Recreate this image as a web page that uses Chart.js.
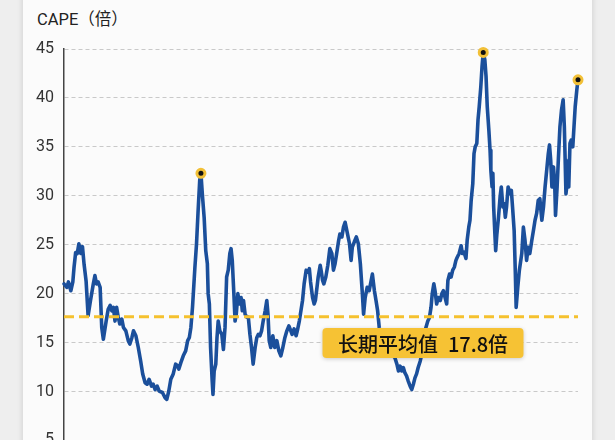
<!DOCTYPE html>
<html lang="zh">
<head>
<meta charset="utf-8">
<title>CAPE</title>
<script src="https://cdn.jsdelivr.net/npm/chart.js@4.4.1/dist/chart.umd.min.js"></script>
<style>
  html, body { margin: 0; padding: 0; }
  body {
    width: 615px; height: 440px; overflow: hidden; position: relative;
    background: #eeeeee;
    font-family: Roboto, "Noto Sans CJK SC", sans-serif;
  }
  .card {
    position: absolute; left: 23px; top: -10px; width: 569px; height: 470px;
    background: #fbfbfb; box-shadow: 0 0 6px rgba(0, 0, 0, 0.15);
  }
  .title {
    position: absolute; left: 37px; top: 6px;
    font-size: 16.5px; color: #222; white-space: nowrap;
  }
  #chart { position: absolute; left: 0; top: 0; }
</style>
</head>
<body>
<div class="card"></div>
<div class="title">CAPE（倍）</div>
<canvas id="chart" width="615" height="509"></canvas>
<script>
// Time axis (years) and CAPE ratio
const years = [
  1896.0, 1896.7, 1897.1, 1897.7, 1898.2, 1898.5, 1898.9, 1899.3, 1899.7, 1900.2,
  1900.6, 1901.0, 1901.5, 1902.0, 1902.6, 1903.3, 1903.7, 1904.1, 1904.5, 1905.0,
  1905.4, 1905.8, 1906.5, 1907.0, 1907.5, 1907.9, 1908.3, 1908.7, 1909.1, 1909.5,
  1909.9, 1910.4, 1910.8, 1911.4, 1912.0, 1912.4, 1912.9, 1913.3, 1913.9, 1914.5,
  1915.1, 1915.6, 1916.2, 1916.7, 1917.2, 1917.8, 1918.2, 1918.7, 1919.2, 1919.7,
  1920.5, 1921.2, 1921.6, 1922.1, 1922.6, 1923.2, 1923.8, 1924.3, 1924.6, 1925.1,
  1925.7, 1926.3, 1926.8, 1927.2, 1927.6, 1928.0, 1928.3, 1928.6, 1929.0, 1929.4,
  1929.8, 1930.1, 1930.5, 1930.9, 1931.3, 1931.7, 1931.9, 1932.2, 1932.5, 1932.9,
  1933.1, 1933.4, 1933.8, 1934.1, 1934.4, 1934.8, 1935.3, 1935.7, 1936.1, 1936.5,
  1936.9, 1937.3, 1937.6, 1937.9, 1938.3, 1938.6, 1938.9, 1939.3, 1939.7, 1940.1,
  1940.4, 1940.7, 1941.1, 1941.5, 1941.9, 1942.3, 1942.7, 1943.1, 1943.6, 1944.0,
  1944.4, 1944.8, 1945.2, 1945.6, 1946.1, 1946.5, 1946.8, 1947.1, 1947.5, 1948.0,
  1948.5, 1949.0, 1949.5, 1950.0, 1950.5, 1951.0, 1951.5, 1952.0, 1952.3, 1952.8,
  1953.3, 1953.8, 1954.1, 1954.6, 1955.0, 1955.4, 1955.8, 1956.3, 1956.8, 1957.1,
  1957.4, 1957.9, 1958.3, 1958.6, 1958.9, 1959.3, 1959.8, 1960.1, 1960.4, 1960.7,
  1961.2, 1961.7, 1962.2, 1962.7, 1963.1, 1963.5, 1963.9, 1964.4, 1964.7, 1965.2,
  1965.6, 1966.0, 1966.6, 1967.1, 1967.5, 1967.8, 1968.3, 1968.8, 1969.3, 1969.8,
  1970.3, 1970.6, 1971.0, 1971.5, 1972.0, 1972.5, 1972.8, 1973.3, 1973.7, 1974.1,
  1974.5, 1974.9, 1976.2, 1977.4, 1978.4, 1978.9, 1979.3, 1979.7, 1980.1, 1980.5,
  1980.9, 1981.3, 1981.7, 1982.2, 1982.6, 1983.0, 1983.4, 1983.8, 1984.2, 1984.7,
  1985.1, 1985.5, 1985.9, 1986.6, 1987.0, 1987.4, 1987.7, 1988.1, 1988.4, 1988.8,
  1989.2, 1989.7, 1990.1, 1990.5, 1990.9, 1991.3, 1991.6, 1992.0, 1992.4, 1992.8,
  1993.2, 1993.6, 1993.9, 1994.4, 1994.9, 1995.2, 1995.6, 1996.1, 1996.4, 1996.8,
  1997.1, 1997.4, 1997.8, 1998.1, 1998.4, 1998.8, 1999.1, 1999.4, 1999.8, 2000.1,
  2000.4, 2000.8, 2001.1, 2001.4, 2001.8, 2002.1, 2002.3, 2002.6, 2002.8, 2003.0,
  2003.3, 2003.5, 2003.8, 2004.2, 2004.6, 2004.9, 2005.3, 2005.6, 2005.9, 2006.2,
  2006.6, 2007.1, 2007.4, 2007.7, 2008.1, 2008.4, 2008.6, 2009.0, 2009.4, 2010.0,
  2010.4, 2010.8, 2011.2, 2011.6, 2012.0, 2012.5, 2012.9, 2013.3, 2013.7, 2014.1,
  2014.5, 2015.0, 2015.4, 2015.8, 2016.2, 2016.6, 2016.9, 2017.2, 2017.5, 2017.9,
  2018.2, 2018.4, 2018.8, 2019.1, 2019.5, 2019.9, 2020.3, 2020.6, 2020.8, 2021.0,
  2021.3, 2021.7, 2022.0, 2022.3, 2022.7, 2023.0, 2023.3, 2023.7, 2024.0
];
const cape = [
  21.0, 20.65, 21.2, 20.3, 21.2, 22.7, 24.2, 24.1, 25.1, 24.1,
  24.8, 23.0, 21.3, 17.75, 19.3, 21.0, 21.85, 21.0, 21.2, 20.65,
  16.55, 15.35, 17.2, 18.4, 18.8, 18.25, 18.6, 17.2, 18.6, 17.6,
  16.9, 17.4, 16.55, 16.2, 15.2, 14.85, 15.5, 16.2, 15.7, 14.5,
  13.1, 11.8, 10.9, 10.75, 11.25, 10.55, 10.75, 10.2, 10.55, 10.05,
  9.9, 9.35, 9.2, 10.05, 11.25, 11.8, 12.8, 12.6, 12.3, 12.95,
  13.65, 14.15, 15.2, 15.5, 16.55, 18.6, 20.65, 22.7, 25.1, 28.5,
  31.6, 32.3, 29.9, 27.8, 24.4, 23.05, 20.0, 18.95, 14.5, 11.1,
  9.7, 12.1, 12.8, 15.5, 17.2, 16.2, 15.85, 14.3, 16.55, 21.7,
  22.4, 24.1, 24.6, 23.4, 20.0, 17.2, 17.9, 20.0, 18.95, 19.6,
  18.25, 19.3, 17.9, 17.6, 17.6, 15.85, 14.5, 12.8, 14.5, 15.5,
  15.85, 15.7, 16.2, 17.2, 18.25, 19.3, 17.9, 15.2, 14.5, 15.7,
  14.5, 15.2, 14.15, 13.65, 14.5, 15.5, 16.2, 16.7, 16.4, 15.85,
  16.4, 15.7, 16.2, 17.2, 18.25, 19.3, 21.0, 22.4, 22.2, 22.55,
  21.2, 19.6, 18.95, 19.3, 20.3, 21.7, 22.9, 22.2, 21.35, 21.0,
  21.7, 22.9, 24.6, 24.1, 22.4, 23.05, 24.1, 25.45, 26.1, 25.8,
  26.8, 27.3, 26.1, 25.1, 23.4, 24.75, 25.3, 25.8, 25.1, 23.05,
  20.0, 17.9, 19.6, 20.65, 20.3, 21.35, 22.0, 20.3, 19.3, 18.25,
  16.55, 15.5, 14.3, 13.9, 13.45, 12.8, 12.1, 12.6, 12.1, 12.45,
  11.9, 11.6, 11.1, 10.55, 10.2, 10.75, 11.4, 11.8, 12.45, 13.1,
  13.8, 15.2, 16.2, 17.2, 17.55, 18.6, 20.0, 21.0, 20.3, 18.95,
  19.6, 19.3, 20.0, 20.3, 19.6, 18.95, 21.35, 22.0, 21.7, 22.4,
  22.7, 23.4, 23.7, 24.1, 24.9, 24.1, 24.25, 23.6, 25.45, 26.8,
  27.5, 29.55, 31.25, 34.3, 35.0, 35.35, 37.75, 39.1, 41.15, 43.2,
  44.65, 43.9, 42.2, 39.1, 36.7, 34.65, 32.6, 30.9, 32.3, 28.85,
  26.1, 24.4, 26.1, 27.8, 29.9, 30.9, 28.85, 29.2, 27.8, 28.85,
  30.9, 30.2, 30.55, 28.85, 26.45, 22.0, 18.6, 20.65, 22.4, 24.1,
  26.8, 25.45, 23.4, 24.75, 24.1, 25.45, 26.45, 27.5, 28.2, 29.55,
  29.7, 27.5, 28.85, 30.9, 32.6, 34.3, 35.2, 33.65, 30.9, 32.95,
  31.25, 28.0, 30.9, 33.65, 37.05, 38.8, 39.8, 37.05, 33.65, 30.2,
  31.25, 30.9, 35.35, 35.7, 35.0, 37.05, 39.1, 40.8, 41.85
];
// highlighted points (1929 peak, 2000 peak, latest)
const markYears = [1930.1, 2000.4, 2024.0];
const markValues = [32.3, 44.65, 41.85];
// long-term average
const avgValue = 17.65;
const avgText = '长期平均值\u200217.8倍';
const yTicks = [0, 5, 10, 15, 20, 25, 30, 35, 40, 45];

const fontFamily = 'Roboto, "Noto Sans CJK SC", sans-serif';

// Label box sitting under the average line
const avgLabel = {
    id: 'avgLabel',
    afterDatasetsDraw(chart) {
        const {ctx, scales: {x, y}} = chart;
        const cx = x.getPixelForValue(1985.4);
        const cy = y.getPixelForValue(14.95);
        const w = 201, h = 30;
        ctx.save();
        ctx.shadowColor = 'rgba(0,0,0,0.2)';
        ctx.shadowBlur = 4;
        ctx.shadowOffsetY = 1;
        ctx.fillStyle = '#f6c234';
        ctx.beginPath();
        ctx.roundRect(cx - w / 2, cy - h / 2, w, h, 4);
        ctx.fill();
        ctx.shadowColor = 'transparent';
        ctx.fillStyle = '#111111';
        ctx.font = '500 20px "Noto Sans CJK SC", sans-serif';
        ctx.textAlign = 'center';
        ctx.textBaseline = 'middle';
        ctx.fillText(avgText, cx, cy + 1);
        ctx.restore();
    }
};

const series = years.map((yr, i) => ({x: yr, y: cape[i]}));
const marks = markYears.map((yr, i) => ({x: yr, y: markValues[i]}));
const avgLine = [{x: years[0], y: avgValue}, {x: years[years.length - 1], y: avgValue}];

new Chart(document.getElementById('chart'), {
    type: 'line',
    data: {
        datasets: [
            {
                type: 'scatter',
                data: marks,
                pointRadius: 4,
                pointBorderWidth: 3,
                pointBackgroundColor: '#111111',
                pointBorderColor: '#f2c037',
                clip: false,
                order: 0
            },
            {
                data: avgLine,
                borderColor: '#f5c12e',
                borderWidth: 3,
                borderDash: [10, 5],
                pointRadius: 0,
                clip: false,
                order: 1
            },
            {
                data: series,
                borderColor: '#1b4f9b',
                borderWidth: 3.6,
                borderJoinStyle: 'round',
                borderCapStyle: 'round',
                pointRadius: 0,
                tension: 0,
                clip: false,
                order: 2
            }
        ]
    },
    options: {
        responsive: false,
        animation: false,
        devicePixelRatio: 1,
        layout: {padding: {top: 49, right: 37, bottom: 12, left: 0}},
        plugins: {
            legend: {display: false},
            tooltip: {enabled: false}
        },
        scales: {
            x: {
                type: 'linear',
                min: 1896,
                max: 2024,
                display: false
            },
            y: {
                min: 0,
                max: 45,
                afterBuildTicks: (scale) => {
                    scale.ticks = yTicks.map(v => ({value: v}));
                },
                afterFit: (scale) => {
                    scale.width = 64;
                },
                ticks: {
                    padding: 10,
                    color: '#333333',
                    font: {size: 16, family: fontFamily}
                },
                grid: {
                    color: '#c9c9c9',
                    lineWidth: 1,
                    drawTicks: false
                },
                border: {
                    display: true,
                    color: '#444444',
                    width: 1.5,
                    dash: [4, 3]
                }
            }
        }
    },
    plugins: [avgLabel]
});
</script>
</body>
</html>
